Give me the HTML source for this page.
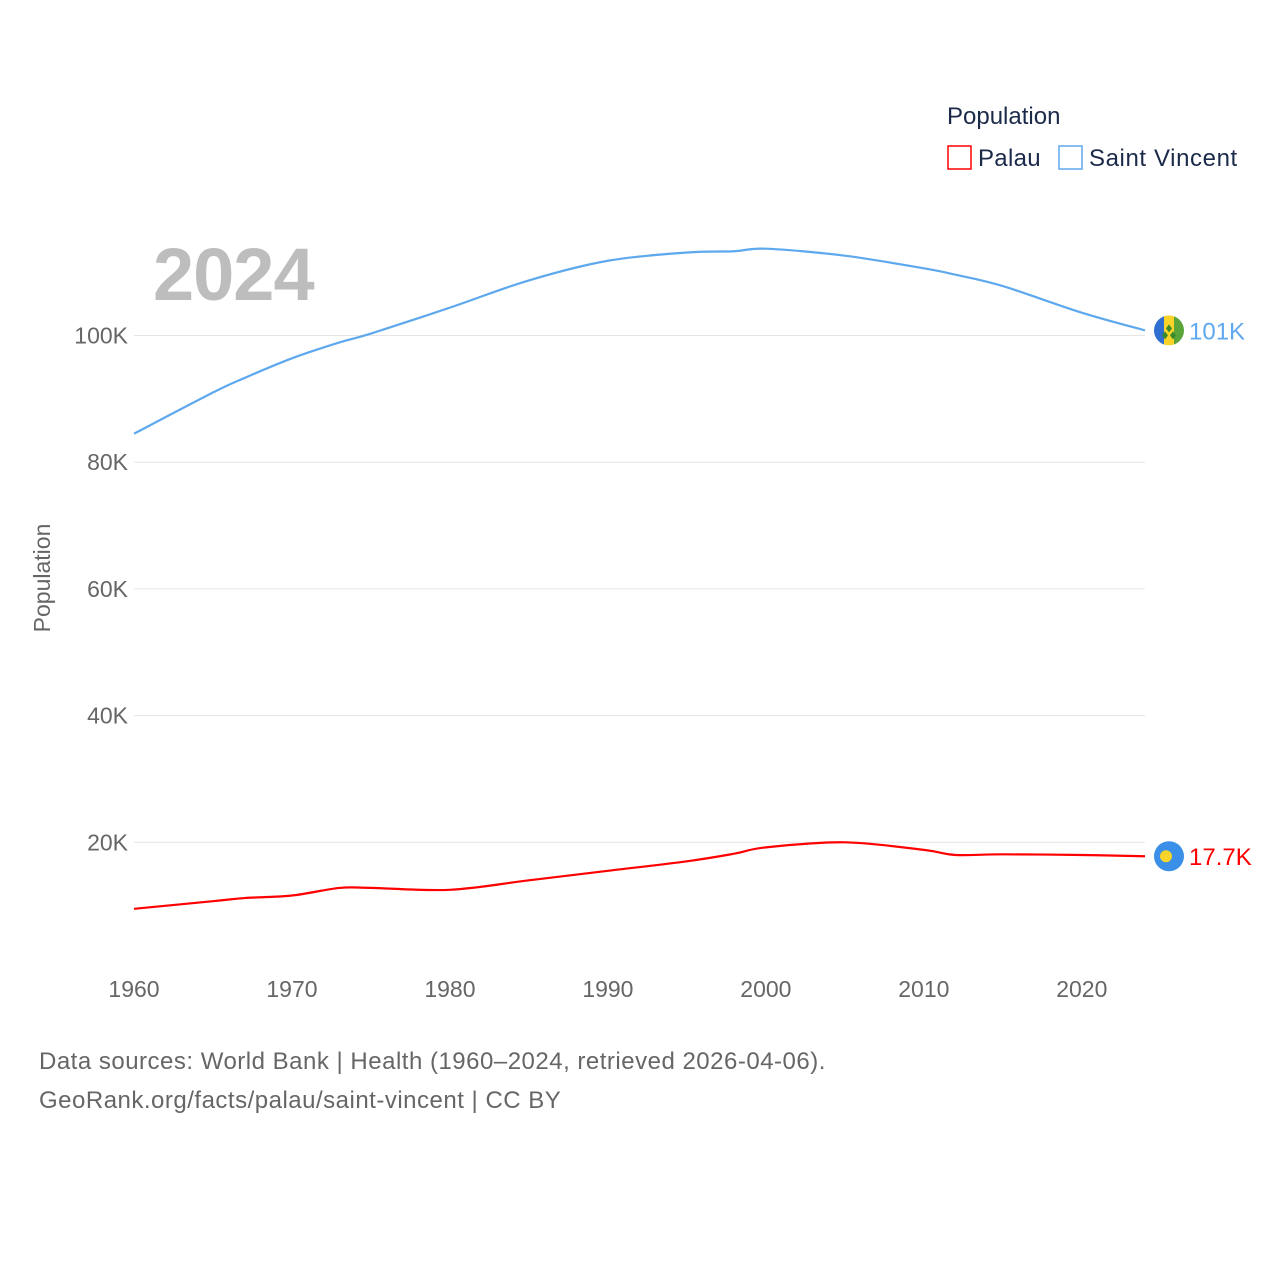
<!DOCTYPE html>
<html><head><meta charset="utf-8"><style>
body{margin:0;background:#fff;font-family:"Liberation Sans",sans-serif;}
svg text{font-family:"Liberation Sans",sans-serif;}
</style></head><body>
<svg id="chart" width="1280" height="1280" viewBox="0 0 1280 1280" xmlns="http://www.w3.org/2000/svg">
<defs><clipPath id="fc"><circle cx="1169" cy="331" r="15"/></clipPath></defs>
<rect width="1280" height="1280" fill="#fff"/>
<g id="grid"></g>
<g id="yticks"></g>
<g id="xticks"></g>
<text x="153" y="300" font-size="74" font-weight="bold" fill="#bdbdbd" letter-spacing="-1">2024</text>
<text transform="translate(50,578) rotate(-90)" text-anchor="middle" font-size="23" fill="#666">Population</text>
<g id="series"></g>
<g>
<text x="947" y="124" font-size="24" fill="#1c2a4a">Population</text>
<g><rect x="948" y="146" width="23" height="23" fill="none" stroke="#ff0000" stroke-width="1.5"/><text x="978" y="166" font-size="24" fill="#1c2a4a" letter-spacing="0.3">Palau</text></g>
<g><rect x="1059" y="146" width="23" height="23" fill="none" stroke="#5ea8ee" stroke-width="1.5"/><text x="1089" y="166" font-size="24" fill="#1c2a4a" letter-spacing="0.6">Saint Vincent</text></g>
</g>
<text x="39" y="1069" font-size="24" fill="#666" letter-spacing="0.5">Data sources: World Bank | Health (1960–2024, retrieved 2026-04-06).</text>
<text x="39" y="1108" font-size="24" fill="#666" letter-spacing="0.5">GeoRank.org/facts/palau/saint-vincent | CC BY</text>
</svg>
<script>
const years=[1960,1965,1967,1970,1973,1975,1980,1985,1990,1995,1998,2000,2005,2010,2012,2015,2020,2024];
const svgValues=[84.5,91.0,93.3,96.4,98.9,100.3,104.4,108.7,111.8,113.1,113.3,113.7,112.6,110.6,109.6,107.8,103.6,100.8];
const palauValues=[9.5,10.7,11.2,11.6,12.8,12.8,12.5,14.0,15.5,17.0,18.2,19.2,20.0,18.8,18.0,18.1,18.0,17.8];
const yTicks=[20,40,60,80,100];
const xTicks=[1960,1970,1980,1990,2000,2010,2020];
const NS="http://www.w3.org/2000/svg";
function X(yr){return 134+(yr-1960)*(1145-134)/64;}
function Y(v){return 969-v*6.335;}
function mk(t,a,p){const e=document.createElementNS(NS,t);for(const k in a)e.setAttribute(k,a[k]);p.appendChild(e);return e;}
const grid=document.getElementById('grid'),yt=document.getElementById('yticks'),xt=document.getElementById('xticks'),ser=document.getElementById('series');
yTicks.forEach(v=>{
 const l=mk('line',{x1:134,x2:1145,y1:Y(v),y2:Y(v),stroke:'#e6e6e6','stroke-width':1},grid);
 
 
 const t=mk('text',{x:128,y:Y(v)+8,'text-anchor':'end','font-size':23,fill:'#666'},yt);
 t.textContent=v+'K';
 
 
});
xTicks.forEach(v=>{
 const t=mk('text',{x:X(v),y:997,'text-anchor':'middle','font-size':23,fill:'#666'},xt);
 t.textContent=v;
 
 
});
function path(vals){
 const p=years.map((y,i)=>[X(y),Y(vals[i])]);
 let d='M'+p[0][0]+','+p[0][1];
 for(let i=0;i<p.length-1;i++){
  const p0=p[Math.max(0,i-1)],p1=p[i],p2=p[i+1],p3=p[Math.min(p.length-1,i+2)];
  const c1=[p1[0]+(p2[0]-p0[0])/6,p1[1]+(p2[1]-p0[1])/6],c2=[p2[0]-(p3[0]-p1[0])/6,p2[1]-(p3[1]-p1[1])/6];
  d+=' C'+c1+' '+c2+' '+p2;
 }
 return d;
}
function series(vals,color,name,label,flag){
 const pth=mk('path',{d:path(vals),fill:'none',stroke:color,'stroke-width':2.2},ser);
 
 
 const last=vals[vals.length-1],y=Y(last);
 const g=mk('g',{},ser);
 
 
 if(flag==='svg'){
  const cp=document.querySelector('#fc circle');cp.setAttribute('cy',y);
  const f=mk('g',{'clip-path':'url(#fc)'},g);
  mk('rect',{x:1154,y:y-15,width:10,height:30,fill:'#2f6fd0'},f);
  mk('rect',{x:1164,y:y-15,width:10,height:30,fill:'#f8d32a'},f);
  mk('rect',{x:1174,y:y-15,width:10,height:30,fill:'#5aa53a'},f);
  mk('path',{d:`M1169,${y-6} l3,4 l-3,4 l-3,-4z M1165,${y+1} l3,4 l-3,4 l-3,-4z M1173,${y+1} l3,4 l-3,4 l-3,-4z`,fill:'#3a8a2a'},f);
 }else{
  mk('circle',{cx:1169,cy:y,r:15,fill:'#3a8fe8'},g);
  mk('circle',{cx:1166,cy:y,r:6,fill:'#f8d32a'},g);
 }
 const t=mk('text',{x:1189,y:y+9,'font-size':24,fill:color},ser);
 t.textContent=label;
 
 
}
series(svgValues,'#5ea8ee','saint-vincent','101K','svg');
series(palauValues,'#ff0000','palau','17.7K','palau');
</script>
</body></html>
